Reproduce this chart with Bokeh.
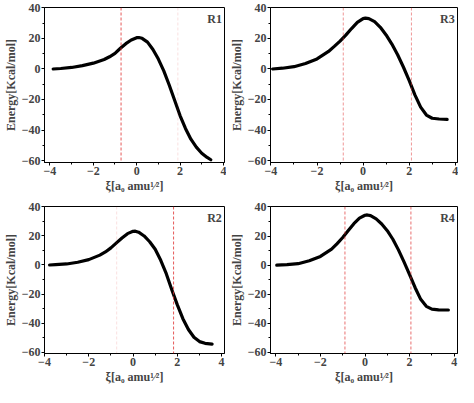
from bokeh.plotting import figure
from bokeh.layouts import gridplot
from bokeh.models import Span, Label, Range1d, FixedTicker
from bokeh.embed import file_html
from bokeh.resources import INLINE

# ---- data ----
r1_x = [-3.85, -3.5, -3.0, -2.5, -2.0, -1.5, -1.25, -1.0, -0.75, -0.5, -0.25, 0.0, 0.1, 0.25, 0.5, 0.75, 1.0, 1.25, 1.5, 1.75, 2.0, 2.25, 2.5, 2.75, 3.0, 3.25, 3.42]
r1_y = [0.0, 0.3, 1.0, 2.2, 3.8, 6.2, 8.0, 10.2, 13.6, 16.6, 19.0, 20.5, 20.6, 20.1, 17.6, 12.8, 6.5, -1.2, -10.5, -20.5, -30.5, -39.0, -46.0, -51.2, -55.2, -58.0, -59.5]

r3_x = [-3.93, -3.5, -3.0, -2.5, -2.0, -1.5, -1.25, -1.0, -0.75, -0.5, -0.25, 0.0, 0.1, 0.25, 0.5, 0.75, 1.0, 1.25, 1.5, 1.75, 2.0, 2.25, 2.5, 2.75, 3.0, 3.3, 3.65]
r3_y = [0.0, 0.5, 1.5, 3.6, 6.6, 11.5, 14.8, 18.3, 22.2, 26.5, 30.5, 33.0, 33.3, 33.0, 31.0, 27.3, 22.3, 16.3, 9.3, 1.3, -7.5, -17.0, -25.0, -30.2, -32.3, -32.8, -33.0]

r2_x = [-3.77, -3.5, -3.0, -2.5, -2.0, -1.5, -1.25, -1.0, -0.75, -0.5, -0.25, 0.0, 0.1, 0.25, 0.5, 0.75, 1.0, 1.25, 1.5, 1.75, 2.0, 2.25, 2.5, 2.75, 3.0, 3.25, 3.57]
r2_y = [0.0, 0.2, 0.7, 1.9, 3.7, 6.8, 9.0, 11.8, 15.2, 18.6, 21.6, 23.2, 23.3, 22.6, 20.0, 16.0, 10.8, 3.2, -6.0, -17.0, -27.5, -37.0, -44.5, -49.8, -52.8, -54.0, -54.5]

r4_x = [-3.96, -3.5, -3.0, -2.5, -2.0, -1.5, -1.25, -1.0, -0.75, -0.5, -0.25, 0.0, 0.1, 0.25, 0.5, 0.75, 1.0, 1.25, 1.5, 1.75, 2.0, 2.25, 2.5, 2.75, 3.0, 3.3, 3.74]
r4_y = [0.0, 0.3, 1.0, 3.0, 6.0, 11.0, 14.8, 19.0, 23.8, 28.5, 32.3, 34.3, 34.5, 34.0, 31.8, 28.3, 23.7, 17.8, 10.5, 2.2, -6.5, -15.5, -23.5, -28.3, -30.2, -30.7, -30.8]

r1_marks = [-0.72, 1.9]
r3_marks = [-0.86, 2.1]
r2_marks = [-0.74, 1.83]
r4_marks = [-0.9, 2.06]

x_ticks = [-4, -2, 0, 2, 4]
x_minor = [-3, -1, 1, 3]
y_ticks = [-60, -40, -20, 0, 20, 40]
y_minor = [-50, -30, -10, 10, 30]

FONT = "Liberation Serif"


def make_panel(xs, ys, marks, mark_alphas, name, xr, yr, w, h, bl, br, bt, bb):
    p = figure(width=w, height=h, output_backend="svg", toolbar_location=None,
               x_range=Range1d(*xr), y_range=Range1d(*yr),
               min_border_left=bl, min_border_right=br,
               min_border_top=bt, min_border_bottom=bb)
    p.grid.visible = False
    p.outline_line_color = "black"
    p.outline_line_width = 1
    p.background_fill_color = "white"
    p.border_fill_color = "white"

    for loc, a in zip(marks, mark_alphas):
        p.add_layout(Span(location=loc, dimension="height", line_color="#e03030",
                          line_dash="3 2", line_width=1, line_alpha=a))

    p.line(xs, ys, line_color="black", line_width=3.2, line_join="round", line_cap="round")

    p.xaxis.ticker = FixedTicker(ticks=x_ticks, minor_ticks=x_minor)
    p.yaxis.ticker = FixedTicker(ticks=y_ticks, minor_ticks=y_minor)
    p.xaxis.axis_label = "ξ[a₀ amu¹⁄²]"
    p.yaxis.axis_label = "Energy[Kcal/mol]"
    for ax in (p.xaxis[0], p.yaxis[0]):
        ax.axis_label_text_font = FONT
        ax.axis_label_text_font_style = "bold"
        ax.axis_label_text_font_size = "12px"
        ax.axis_label_standoff = 1
        ax.major_label_text_font = FONT
        ax.major_label_text_font_style = "bold"
        ax.major_label_text_font_size = "12px"
        ax.major_label_standoff = 1
        ax.major_tick_out = 3
        ax.major_tick_in = 0
        ax.minor_tick_out = 2
        ax.minor_tick_in = 0
        ax.axis_line_color = "black"
        ax.major_tick_line_color = "black"
        ax.minor_tick_line_color = "black"

    p.add_layout(Label(x=xr[1] - 0.12, y=yr[1] - 3, text=name, text_align="right",
                       text_baseline="top", text_font=FONT, text_font_style="bold",
                       text_font_size="12px"))
    return p


p1 = make_panel(r1_x, r1_y, r1_marks, [0.8, 0.15], "R1", (-4.25, 4.05), (-61.3, 40.3),
                226, 198, 31, 2, 7, 36)
p3 = make_panel(r3_x, r3_y, r3_marks, [0.5, 0.5], "R3", (-4.02, 4.1), (-61.3, 40.3),
                232, 198, 42, 1, 7, 36)
p2 = make_panel(r2_x, r2_y, r2_marks, [0.15, 0.8], "R2", (-4.0, 4.13), (-61.0, 40.3),
                226, 188, 31, 2, 8, 30)
p4 = make_panel(r4_x, r4_y, r4_marks, [0.7, 0.7], "R4", (-4.24, 4.15), (-60.7, 40.3),
                232, 188, 42, 1, 8, 30)

grid = gridplot([[p1, p3], [p2, p4]], toolbar_location=None)

open("out.html", "w").write(file_html(grid, INLINE))
